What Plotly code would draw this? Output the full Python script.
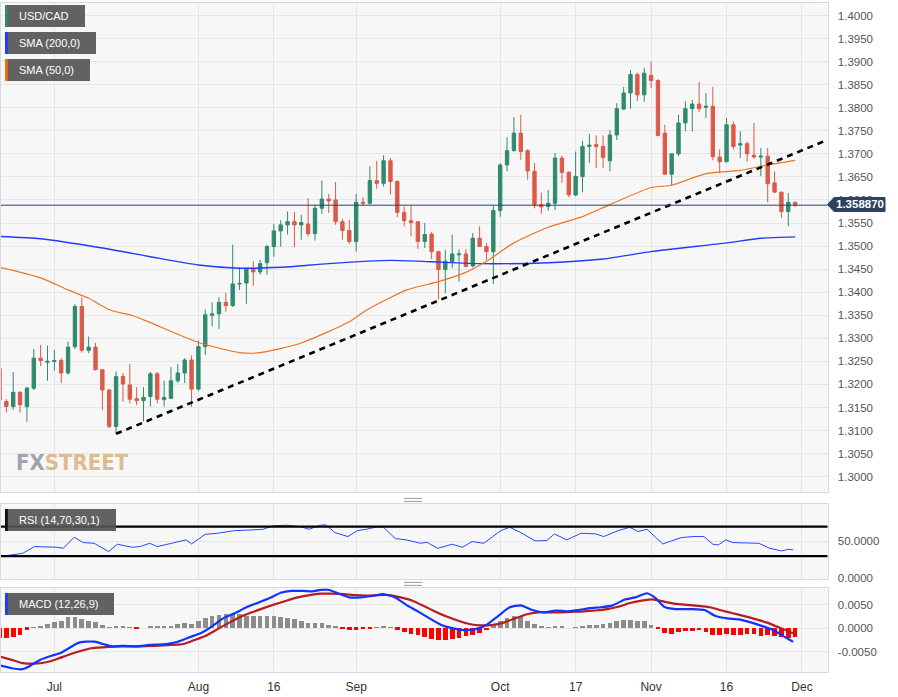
import plotly.graph_objects as go

W, H = 898, 697

# ---------------- data ----------------
day_idx = list(range(-8, 109))  # trading-day index, 0 = Jul 3

opens = [1.3234, 1.3163, 1.3152, 1.3183, 1.3152, 1.3192, 1.3257, 1.3248,
         1.3250, 1.3252, 1.3225, 1.3282, 1.3369, 1.3274, 1.3281, 1.3232,
         1.3188, 1.3109, 1.3217, 1.3199, 1.3169, 1.3165, 1.3174, 1.3223,
         1.3167, 1.3170, 1.3208, 1.3225, 1.3253, 1.3190, 1.3282, 1.3350,
         1.3353, 1.3378, 1.3371, 1.3418, 1.3420, 1.3450, 1.3444, 1.3464,
         1.3499, 1.3533, 1.3546, 1.3553, 1.3546, 1.3548, 1.3527, 1.3582,
         1.3602, 1.3600, 1.3553, 1.3534, 1.3510, 1.3595, 1.3593, 1.3642,
         1.3636, 1.3685, 1.3640, 1.3573, 1.3555, 1.3553, 1.3510, 1.3526,
         1.3488, 1.3449, 1.3466, 1.3481, 1.3483, 1.3457, 1.3517, 1.3499,
         1.3488, 1.3577, 1.3676, 1.3707, 1.3745, 1.3707, 1.3662, 1.3590,
         1.3586, 1.3593, 1.3691, 1.3660, 1.3611, 1.3651, 1.3716, 1.3720,
         1.3716, 1.3685, 1.3741, 1.3797, 1.3832, 1.3872, 1.3828, 1.3870,
         1.3859, 1.3745, 1.3656, 1.3700, 1.3767, 1.3798, 1.3808, 1.3801,
         1.3803, 1.3693, 1.3683, 1.3763, 1.3719, 1.3722, 1.3697, 1.3693,
         1.3695, 1.3637, 1.3617, 1.3575, 1.3595]
highs = [1.3242, 1.3168, 1.3227, 1.3185, 1.3195, 1.3277, 1.3286, 1.3284,
         1.3275, 1.3257, 1.3293, 1.3374, 1.3389, 1.3304, 1.3290, 1.3232,
         1.3190, 1.3228, 1.3225, 1.3245, 1.3194, 1.3194, 1.3227, 1.3227,
         1.3208, 1.3238, 1.3244, 1.3257, 1.3263, 1.3295, 1.3362, 1.3378,
         1.3389, 1.3399, 1.3503, 1.3454, 1.3454, 1.3467, 1.3470, 1.3503,
         1.3548, 1.3556, 1.3575, 1.3574, 1.3568, 1.3604, 1.3590, 1.3642,
         1.3613, 1.3639, 1.3559, 1.3557, 1.3613, 1.3606, 1.3673, 1.3685,
         1.3697, 1.3691, 1.3643, 1.3586, 1.3588, 1.3553, 1.3550, 1.3530,
         1.3490, 1.3492, 1.3525, 1.3493, 1.3493, 1.3528, 1.3543, 1.3507,
         1.3587, 1.3680, 1.3736, 1.3780, 1.3785, 1.3710, 1.3680, 1.3616,
         1.3622, 1.3702, 1.3696, 1.3662, 1.3705, 1.3728, 1.3743, 1.3740,
         1.3740, 1.3752, 1.3810, 1.3845, 1.3882, 1.3876, 1.3887, 1.3900,
         1.3862, 1.3763, 1.3700, 1.3785, 1.3814, 1.3817, 1.3856, 1.3832,
         1.3845, 1.3710, 1.3778, 1.3770, 1.3749, 1.3727, 1.3767, 1.3713,
         1.3713, 1.3662, 1.3617, 1.3615, 1.3596]
lows = [1.3150, 1.3139, 1.3145, 1.3139, 1.3119, 1.3188, 1.3240, 1.3208,
        1.3230, 1.3203, 1.3221, 1.3277, 1.3269, 1.3268, 1.3230, 1.3145,
        1.3105, 1.3093, 1.3163, 1.3159, 1.3155, 1.3120, 1.3152, 1.3159,
        1.3152, 1.3168, 1.3203, 1.3203, 1.3151, 1.3185, 1.3264, 1.3326,
        1.3320, 1.3358, 1.3368, 1.3405, 1.3375, 1.3414, 1.3438, 1.3438,
        1.3477, 1.3499, 1.3525, 1.3498, 1.3514, 1.3521, 1.3512, 1.3570,
        1.3572, 1.3546, 1.3514, 1.3505, 1.3488, 1.3587, 1.3590, 1.3624,
        1.3629, 1.3612, 1.3563, 1.3543, 1.3521, 1.3494, 1.3496, 1.3472,
        1.3384, 1.3398, 1.3452, 1.3423, 1.3454, 1.3454, 1.3498, 1.3470,
        1.3418, 1.3563, 1.3662, 1.3705, 1.3687, 1.3644, 1.3582, 1.3570,
        1.3577, 1.3578, 1.3637, 1.3606, 1.3608, 1.3617, 1.3680, 1.3669,
        1.3669, 1.3662, 1.3730, 1.3795, 1.3798, 1.3815, 1.3813, 1.3843,
        1.3738, 1.3654, 1.3631, 1.3695, 1.3749, 1.3749, 1.3791, 1.3778,
        1.3686, 1.3658, 1.3681, 1.3709, 1.3691, 1.3683, 1.3690, 1.3652,
        1.3595, 1.3615, 1.3561, 1.3543, 1.3585]
closes = [1.3166, 1.3152, 1.3183, 1.3156, 1.3192, 1.3257, 1.3252, 1.3250,
          1.3252, 1.3225, 1.3281, 1.3369, 1.3274, 1.3281, 1.3232, 1.3188,
          1.3109, 1.3217, 1.3201, 1.3168, 1.3165, 1.3172, 1.3223, 1.3168,
          1.3172, 1.3208, 1.3225, 1.3253, 1.3190, 1.3282, 1.3351, 1.3353,
          1.3378, 1.3371, 1.3418, 1.3419, 1.3450, 1.3444, 1.3462, 1.3499,
          1.3533, 1.3546, 1.3553, 1.3546, 1.3551, 1.3527, 1.3582, 1.3602,
          1.3598, 1.3553, 1.3534, 1.3510, 1.3595, 1.3593, 1.3642, 1.3636,
          1.3685, 1.3640, 1.3573, 1.3555, 1.3551, 1.3510, 1.3525, 1.3488,
          1.3449, 1.3467, 1.3483, 1.3483, 1.3456, 1.3517, 1.3499, 1.3488,
          1.3577, 1.3676, 1.3707, 1.3745, 1.3705, 1.3663, 1.3590, 1.3585,
          1.3593, 1.3691, 1.3660, 1.3611, 1.3651, 1.3716, 1.3719, 1.3716,
          1.3692, 1.3741, 1.3798, 1.3832, 1.3872, 1.3828, 1.3875, 1.3859,
          1.3740, 1.3656, 1.3700, 1.3767, 1.3798, 1.3808, 1.3798, 1.3803,
          1.3694, 1.3683, 1.3763, 1.3716, 1.3722, 1.3700, 1.3693, 1.3695,
          1.3635, 1.3617, 1.3575, 1.3595, 1.3589]

tick_pos = [0, 21, 32, 44, 65, 76, 87, 98, 109]
tick_text = ["Jul", "Aug", "16", "Sep", "Oct", "17", "Nov", "16", "Dec"]

sma200_x = [-8, -2, 7, 14, 21, 27, 33, 40, 49, 55, 62, 72, 80, 87, 98, 103, 108]
sma200_y = [1.3521, 1.3516, 1.3496, 1.3477, 1.3459, 1.3452, 1.3454, 1.3462,
            1.3469, 1.3466, 1.3462, 1.3464, 1.3472, 1.3488, 1.3507, 1.3517, 1.3520]

sma50_x = [-8, -2, 2, 5, 8, 11.5, 14, 21, 27, 30, 36, 43, 45.6, 51.4, 56, 60,
           63, 67, 72, 77, 81, 87, 90, 95, 100, 104, 108]
sma50_y = [1.3454, 1.3431, 1.3405, 1.3387, 1.3362, 1.3349, 1.3334, 1.3291,
           1.3269, 1.3269, 1.3290, 1.3336, 1.3362, 1.3405, 1.3423, 1.3443,
           1.3467, 1.3507, 1.3541, 1.3564, 1.3590, 1.3627, 1.3632, 1.3657,
           1.3664, 1.3676, 1.3686]

trend_x = [9, 112.5]
trend_y = [1.3093, 1.3729]

last_price = 1.35887

rsi_x = [-7.9, -6.3, -4.6, -2.9, -1.2, 0.4, 1.3, 2.9, 4.2, 5.8, 7.9, 9.2, 11.3,
         12.5, 13.9, 15.0, 17.1, 19.2, 20.0, 22.0, 23.8, 26.3, 28.0, 30.5,
         31.7, 33.8, 35.9, 37.1, 38.8, 39.6, 40.9, 42.8, 44.2, 45.5, 47.2,
         48.0, 49.7, 51.3, 53.4, 54.3, 55.9, 58.0, 59.5, 60.9, 62.6, 65.1,
         66.4, 68.0, 70.1, 71.8, 72.9, 74.7, 76.8, 78.9, 80.1, 82.2, 83.9,
         85.1, 86.4, 88.7, 91.4, 93.1, 94.7, 96.0, 96.8, 97.9, 98.9, 101.4,
         102.7, 104.3, 106.0, 107.1, 107.7]
rsi_y = [29.3, 31.6, 33.9, 42.9, 42.9, 42.0, 40.6, 55.6, 48.3, 47.4, 36.1,
         46.1, 42.0, 42.9, 47.4, 42.9, 47.4, 52.0, 46.5, 59.6, 61.0, 64.6,
         65.1, 66.4, 71.0, 71.9, 70.0, 66.4, 71.9, 72.3, 61.9, 56.5, 64.6,
         66.4, 70.0, 69.1, 53.8, 52.0, 47.4, 48.8, 40.6, 46.1, 42.0, 49.7,
         47.4, 64.6, 69.1, 61.9, 50.6, 51.1, 60.1, 52.0, 61.0, 60.1, 56.5,
         64.6, 69.1, 63.3, 66.4, 46.5, 55.1, 56.5, 56.5, 46.1, 45.2, 52.0,
         48.3, 47.4, 47.4, 40.6, 37.0, 39.3, 38.4]
rsi_upper = 70
rsi_lower = 30

macd_x = [-7.9, -6.2, -4.7, -3.7, -2.1, -0.4, 0.8, 2.1, 3.4, 4.6, 5.9, 7.1,
          8.4, 10.0, 12.1, 13.8, 16.3, 18.0, 19.6, 21.3, 23.0, 24.6, 26.3,
          28.0, 29.6, 31.3, 33.0, 34.6, 36.3, 37.6, 38.8, 40.1, 41.3, 43.0,
          44.7, 46.3, 48.0, 49.7, 51.3, 53.0, 54.7, 56.4, 58.0, 59.7, 61.4,
          63.0, 64.7, 66.4, 68.0, 69.7, 71.4, 73.1, 74.7, 76.4, 78.1, 79.7,
          81.4, 83.1, 84.7, 86.4, 87.7, 88.9, 90.6, 93.1, 94.8, 96.4, 98.1,
          99.8, 101.4, 103.1, 104.8, 106.4, 107.7]
macd_y = [-0.0080, -0.0086, -0.0088, -0.0082, -0.0068, -0.0059, -0.0054,
          -0.0043, -0.0032, -0.0029, -0.0029, -0.0034, -0.0039, -0.0038,
          -0.0039, -0.0036, -0.0034, -0.0029, -0.0020, -0.0011, 0.0004,
          0.0021, 0.0032, 0.0045, 0.0054, 0.0064, 0.0076, 0.0080, 0.0080,
          0.0079, 0.0082, 0.0082, 0.0075, 0.0066, 0.0066, 0.0069, 0.0073,
          0.0066, 0.0050, 0.0036, 0.0021, 0.0007, 0.0000, -0.0004, -0.0002,
          0.0007, 0.0026, 0.0045, 0.0049, 0.0039, 0.0034, 0.0038, 0.0036,
          0.0039, 0.0043, 0.0045, 0.0049, 0.0061, 0.0066, 0.0075, 0.0064,
          0.0046, 0.0041, 0.0041, 0.0039, 0.0026, 0.0021, 0.0019, 0.0013,
          0.0005, -0.0004, -0.0018, -0.0029]

signal_x = [-7.9, -6.2, -4.6, -2.9, -1.2, 0.4, 2.1, 3.8, 5.4, 7.1, 9.6, 12.1,
            14.6, 17.1, 18.8, 20.5, 22.1, 23.8, 25.5, 27.1, 28.8, 30.5, 32.1,
            33.8, 35.5, 37.2, 38.8, 40.5, 42.2, 43.8, 45.5, 47.2, 48.8, 50.5,
            52.2, 53.8, 55.5, 57.2, 58.9, 60.5, 62.2, 63.9, 65.5, 67.2, 68.9,
            70.5, 72.2, 73.9, 75.5, 77.2, 78.9, 80.6, 82.2, 83.9, 85.6, 87.2,
            88.9, 90.6, 92.3, 93.9, 95.6, 97.3, 98.9, 100.6, 102.3, 103.9,
            105.6, 107.7]
signal_y = [-0.0061, -0.0068, -0.0075, -0.0076, -0.0073, -0.0066, -0.0057,
            -0.0049, -0.0043, -0.0041, -0.0039, -0.0039, -0.0038, -0.0036,
            -0.0034, -0.0025, -0.0016, -0.0002, 0.0012, 0.0024, 0.0034,
            0.0043, 0.0051, 0.0059, 0.0066, 0.0071, 0.0074, 0.0074, 0.0073,
            0.0071, 0.0070, 0.0071, 0.0071, 0.0066, 0.0059, 0.0048, 0.0036,
            0.0025, 0.0016, 0.0009, 0.0006, 0.0007, 0.0012, 0.0021, 0.0030,
            0.0034, 0.0034, 0.0034, 0.0035, 0.0036, 0.0038, 0.0041, 0.0046,
            0.0054, 0.0059, 0.0062, 0.0057, 0.0052, 0.0050, 0.0048, 0.0045,
            0.0038, 0.0032, 0.0026, 0.0019, 0.0012, 0.0002, -0.0011]

hist_y = [-0.0021, -0.0021, -0.0020, -0.0014, -0.0004, 0.0001, 0.0004, 0.0009,
          0.0012, 0.0014, 0.0023, 0.0023, 0.0020, 0.0016, 0.0012, 0.0007,
          0.0001, 0.0004, 0.0004, 0.0001, -0.0001, 0.0000, 0.0004, 0.0004,
          0.0004, 0.0005, 0.0009, 0.0011, 0.0009, 0.0014, 0.0021, 0.0026,
          0.0028, 0.0029, 0.0030, 0.0029, 0.0026, 0.0025, 0.0025, 0.0025,
          0.0025, 0.0024, 0.0021, 0.0019, 0.0016, 0.0011, 0.0011, 0.0011,
          0.0007, 0.0004, -0.0002, -0.0004, -0.0004, -0.0002, -0.0001, 0.0001,
          0.0004, 0.0002, -0.0004, -0.0009, -0.0012, -0.0016, -0.0019, -0.0024,
          -0.0026, -0.0025, -0.0024, -0.0021, -0.0018, -0.0014, -0.0011, -0.0005,
          0.0007, 0.0016, 0.0021, 0.0025, 0.0024, 0.0016, 0.0009, 0.0004,
          0.0001, 0.0004, 0.0004, 0.0000, 0.0001, 0.0005, 0.0006, 0.0006,
          0.0008, 0.0011, 0.0014, 0.0018, 0.0018, 0.0016, 0.0016, 0.0007,
          -0.0002, -0.0011, -0.0012, -0.0009, -0.0007, -0.0007, -0.0005, -0.0009,
          -0.0014, -0.0014, -0.0013, -0.0014, -0.0014, -0.0013, -0.0013, -0.0018,
          -0.0016, -0.0018, -0.0020, -0.0021, -0.0020]

price_ticks = [round(1.30 + 0.005 * k, 4) for k in range(21)]
rsi_ticks = [0, 50]
macd_ticks = [-0.005, 0.0, 0.005]

# ---------------- layout helpers ----------------
SY = 1 / 0.993   # small vertical correction observed in the rendered output

def px(x):
    return x / W

def py(y):
    return 1 - (y * SY) / H

X_DOM = [px(1), px(827.5)]
MAIN_DOM = [py(492), py(3)]
RSI_DOM = [py(579), py(504.3)]
MACD_DOM = [py(671.7), py(588.3)]
X_RANGE = [-7.78, 112.72]

GREEN = "#2f8a6f"
RED = "#dc5a48"
GRID = "#e6e6e6"
FRAME = "#d3d9e6"
NAVY = "#2d4060"
FONT = "Liberation Sans, Arial, sans-serif"

fig = go.Figure()

fig.add_trace(go.Candlestick(
    x=day_idx, open=opens, high=highs, low=lows, close=closes,
    increasing=dict(line=dict(color=GREEN, width=1), fillcolor=GREEN),
    decreasing=dict(line=dict(color=RED, width=1), fillcolor=RED),
    whiskerwidth=0, showlegend=False, xaxis="x", yaxis="y", hoverinfo="skip"))

fig.add_trace(go.Scatter(x=sma200_x, y=sma200_y, mode="lines",
                         line=dict(color="#1f3cff", width=1.4, shape="spline", smoothing=0.6),
                         showlegend=False, xaxis="x", yaxis="y", hoverinfo="skip"))
fig.add_trace(go.Scatter(x=sma50_x, y=sma50_y, mode="lines",
                         line=dict(color="#f0741e", width=1.2, shape="spline", smoothing=0.6),
                         showlegend=False, xaxis="x", yaxis="y", hoverinfo="skip"))
fig.add_trace(go.Scatter(x=trend_x, y=trend_y, mode="lines",
                         line=dict(color="#000000", width=2.6, dash="6px,5px"),
                         showlegend=False, xaxis="x", yaxis="y", hoverinfo="skip"))

# RSI
fig.add_trace(go.Scatter(x=rsi_x, y=rsi_y, mode="lines",
                         line=dict(color="#2747ff", width=1),
                         showlegend=False, xaxis="x2", yaxis="y2", hoverinfo="skip"))

# MACD
hist_colors = ["#8c8c8c" if v >= 0 else "#ff0000" for v in hist_y]
fig.add_trace(go.Bar(x=day_idx, y=hist_y, marker=dict(color=hist_colors, line=dict(width=0)),
                     width=0.68, showlegend=False, xaxis="x3", yaxis="y3", hoverinfo="skip"))
fig.add_trace(go.Scatter(x=signal_x, y=signal_y, mode="lines",
                         line=dict(color="#b81d1d", width=2.2, shape="spline", smoothing=0.5),
                         showlegend=False, xaxis="x3", yaxis="y3", hoverinfo="skip"))
fig.add_trace(go.Scatter(x=macd_x, y=macd_y, mode="lines",
                         line=dict(color="#1232ff", width=2.2, shape="spline", smoothing=0.5),
                         showlegend=False, xaxis="x3", yaxis="y3", hoverinfo="skip"))

tickfont_y = dict(family=FONT, size=11.5, color="#555555")

def xaxis_cfg(anchor, labels):
    return dict(domain=X_DOM, range=X_RANGE, anchor=anchor, tickmode="array",
                tickvals=tick_pos, ticktext=tick_text, showticklabels=labels,
                showgrid=True, gridcolor=GRID, gridwidth=1, zeroline=False,
                showline=True, mirror=True, linecolor=FRAME, linewidth=1,
                ticks="", fixedrange=True, ticklabelstandoff=4,
                tickfont=dict(family=FONT, size=12, color="#333333"),
                rangeslider=dict(visible=False))

def yaxis_cfg(anchor, dom, rng, tv, tt):
    return dict(domain=dom, range=rng, anchor=anchor, side="right",
                tickmode="array", tickvals=tv, ticktext=tt,
                showgrid=True, gridcolor=GRID, gridwidth=1, zeroline=False,
                showline=True, mirror=True, linecolor=FRAME, linewidth=1,
                ticks="", ticklabelstandoff=7, tickfont=tickfont_y, fixedrange=True)

layout = dict(
    width=W, height=H, margin=dict(l=0, r=0, t=0, b=0),
    paper_bgcolor="#ffffff", plot_bgcolor="#f7f7f7",
    font=dict(family=FONT), showlegend=False, bargap=0,
    xaxis=xaxis_cfg("y", False),
    xaxis2=xaxis_cfg("y2", False),
    xaxis3=xaxis_cfg("y3", True),
    yaxis=yaxis_cfg("x", MAIN_DOM, [1.2967, 1.40271], price_ticks,
                    [f"{v:.4f}" for v in price_ticks]),
    yaxis2=yaxis_cfg("x2", RSI_DOM, [-0.95, 100.4], rsi_ticks,
                     [f"{v:.4f}" for v in rsi_ticks]),
    yaxis3=yaxis_cfg("x3", MACD_DOM, [-0.00931, 0.00858], macd_ticks,
                     [f"{v:.4f}" for v in macd_ticks]),
)
fig.update_layout(**layout)
fig.layout.xaxis2.matches = "x"
fig.layout.xaxis3.matches = "x"

shapes = []
annotations = []

# current price line
shapes.append(dict(type="line", xref="paper", yref="y", x0=X_DOM[0], x1=X_DOM[1],
                   y0=last_price, y1=last_price, line=dict(color=NAVY, width=1)))
# RSI levels
for lvl in (rsi_upper, rsi_lower):
    shapes.append(dict(type="line", xref="paper", yref="y2", x0=X_DOM[0], x1=X_DOM[1],
                       y0=lvl, y1=lvl, line=dict(color="#000000", width=2.4)))

# legend boxes
def label_box(x0, x1, y0, y1, stripe, text):
    shapes.append(dict(type="rect", xref="paper", yref="paper",
                       x0=px(x0), x1=px(x1), y0=py(y1), y1=py(y0),
                       fillcolor="rgba(85,85,85,0.92)", line=dict(width=0), layer="above"))
    shapes.append(dict(type="rect", xref="paper", yref="paper",
                       x0=px(x0), x1=px(x0 + 2.8), y0=py(y1), y1=py(y0),
                       fillcolor=stripe, line=dict(width=0), layer="above"))
    annotations.append(dict(xref="paper", yref="paper", x=px(x0 + 11.5), y=py((y0 + y1) / 2),
                            xanchor="left", yanchor="middle", showarrow=False, text=text,
                            font=dict(family=FONT, size=11, color="#ffffff")))

label_box(5, 85, 5, 27, "#2e8b6e", "USD/CAD")
label_box(5, 96, 32, 54, "#1d3cff", "SMA (200,0)")
label_box(5, 90, 59, 81, "#ff6a00", "SMA (50,0)")
label_box(5, 116, 509, 531, "#111111", "RSI (14,70,30,1)")
label_box(5, 114, 593, 615, "#1d3cff", "MACD (12,26,9)")

# price tag
tag_path = (f"M {px(827.5)},{py(204.5)} L {px(834)},{py(197.5)} L {px(885)},{py(197.5)} "
            f"L {px(885)},{py(211.5)} L {px(834)},{py(211.5)} Z")
shapes.append(dict(type="path", xref="paper", yref="paper", path=tag_path,
                   fillcolor=NAVY, line=dict(color=NAVY, width=1), layer="above"))
annotations.append(dict(xref="paper", yref="paper", x=px(859.5), y=py(204.5),
                        xanchor="center", yanchor="middle", showarrow=False,
                        text=f"<b>{last_price:.6f}</b>",
                        font=dict(family=FONT, size=11.5, color="#ffffff")))

# panel separators (grip handles)
for yy in (498.5, 501.5, 582.5, 585.5):
    shapes.append(dict(type="line", xref="paper", yref="paper", x0=px(404), x1=px(422),
                       y0=py(yy), y1=py(yy), line=dict(color="#9a9a9a", width=1)))

# watermark
annotations.append(dict(xref="paper", yref="paper", x=px(14), y=py(463),
                        xanchor="left", yanchor="middle", showarrow=False,
                        text="<b><span style='color:#959cab'>FX</span>"
                             "<span style='color:#ddb485'>STREET</span></b>",
                        font=dict(family="Liberation Sans Narrow, DejaVu Sans Condensed, sans-serif",
                                  size=22), opacity=0.9))

fig.update_layout(shapes=shapes, annotations=annotations)

fig.write_html(
    "out.html", config={"displayModeBar": False},
    post_script=("document.documentElement.style.margin='0';"
                 "document.documentElement.style.overflow='hidden';"
                 "document.body.style.margin='0';"
                 "document.body.style.overflow='hidden';"))
